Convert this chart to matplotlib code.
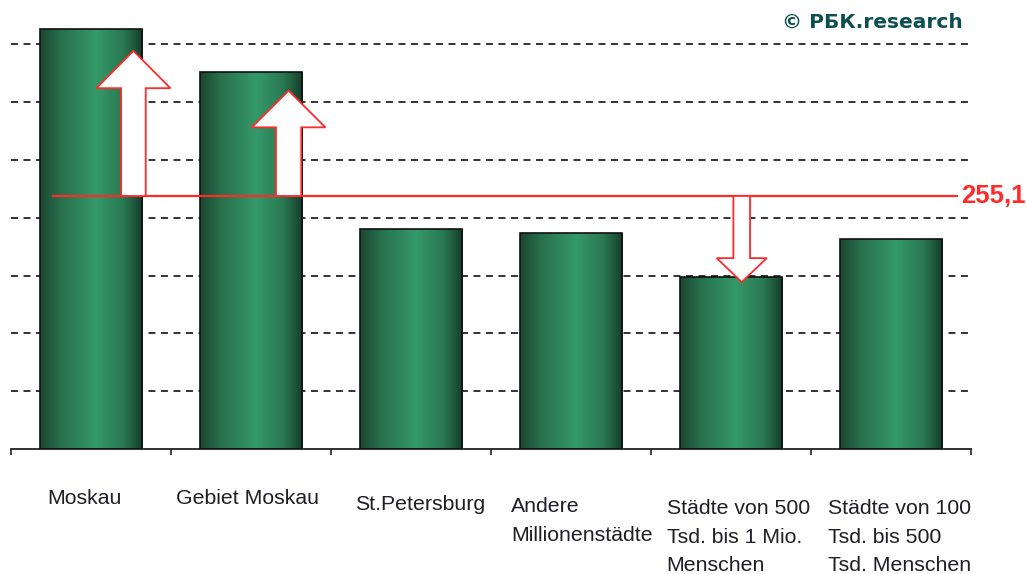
import numpy as np
import matplotlib
matplotlib.use("Agg")
import matplotlib.pyplot as plt
from matplotlib.patches import FancyArrow
from matplotlib.transforms import blended_transform_factory
from matplotlib.colors import LinearSegmentedColormap

categories = ["Moskau", "Gebiet Moskau", "St.Petersburg",
              "Andere\nMillionenstädte",
              "Städte von 500\nTsd. bis 1 Mio.\nMenschen",
              "Städte von 100\nTsd. bis 500\nTsd. Menschen"]
values = [371, 341, 232, 229.5, 199, 225.5]
average = 255.1
average_label = "255,1"
watermark = "© РБК.research"
y_base = 80
grid_values = [120, 160, 200, 240, 280, 320, 360]

plt.rcParams['font.family'] = ['Liberation Sans', 'DejaVu Sans']
plt.rcParams['lines.scale_dashes'] = False

W, H = 1026, 574
fig = plt.figure(figsize=(W / 100, H / 100), dpi=100)
ax = fig.add_axes([11 / W, (H - 449) / H, (971 - 11) / W, 449 / H])
for s in ['top', 'right', 'left']:
    ax.spines[s].set_visible(False)
ax.spines['bottom'].set_linewidth(1.3)
ax.spines['bottom'].set_color('#222222')
ax.set_yticks([])
ax.set_xticks(np.arange(-0.5, 6, 1.0))
ax.tick_params(axis='x', direction='out', length=4, width=1.2, color='#222222',
               labelbottom=False)

# gridlines
for g in grid_values:
    ax.axhline(g, color='#333333', lw=1.4, linestyle=(0, (5, 4)), zorder=1)

# bars with horizontal gradient
cmap = LinearSegmentedColormap.from_list('g', [
    (0.0, '#1b4632'), (0.2, '#27704c'), (0.55, '#35996a'),
    (0.8, '#2a7b53'), (1.0, '#163d2a')])
grad = np.linspace(0, 1, 256).reshape(1, -1)
xs = np.arange(len(categories))
bw = 0.64
bars = ax.bar(xs, np.array(values) - y_base, bottom=y_base, width=bw,
              facecolor='none', edgecolor='#111111', linewidth=1.2, zorder=3)
for b in bars:
    x0 = b.get_x()
    im = ax.imshow(grad, cmap=cmap, aspect='auto', interpolation='bilinear',
                   extent=[x0, x0 + b.get_width(), y_base, b.get_y() + b.get_height()],
                   zorder=2)
    im.set_clip_path(b)
ax.set_xlim(-0.5, 5.5)
ax.set_ylim(y_base, y_base + 449 / 57.8 * 40)

# average line
red = '#ff2a2a'
ax.plot([-0.244, 5.42], [average, average], color=red, lw=1.6, zorder=5,
        solid_capstyle='butt')
ax.text(5.44, average, average_label, color=red, fontsize=18.5, fontweight='bold',
        ha='left', va='center', zorder=6, clip_on=False)

# arrows
def arrow(x, y_from, y_to, w, hw, hl, lw):
    a = FancyArrow(x, y_from, 0, y_to - y_from, width=w, head_width=hw,
                   head_length=hl, length_includes_head=True,
                   facecolor='white', edgecolor=red, linewidth=lw, zorder=6)
    ax.add_patch(a)

arrow(xs[0] + 0.265, average, values[0] - 15.5, 0.154, 0.4625, 25.8, 1.3)
arrow(xs[1] + 0.235, average, values[1] - 13, 0.158, 0.46, 25.4, 1.3)
arrow(xs[4] + 0.067, average, values[4] - 3.5, 0.104, 0.3125, 16.6, 1.3)

# category labels
tr = blended_transform_factory(ax.transData, fig.transFigure)
offsets = [-0.04, -0.02, 0.06, 0.07, 0.045, 0.055]
tops = [489, 489, 495, 497, 499, 499]
for i, lab in enumerate(categories):
    ax.text(i + offsets[i], 1 - tops[i] / H, lab, transform=tr, ha='center',
            va='top', multialignment='left', fontsize=15.3, color='#1e1e28',
            linespacing=1.64, clip_on=False)

# watermark
fig.text(963 / W, 1 - 22 / H, watermark, ha='right', va='center',
         fontsize=14.5, fontweight='bold', color='#0b4f52',
         family=['DejaVu Sans'])

fig.savefig('out.png', dpi=100)
